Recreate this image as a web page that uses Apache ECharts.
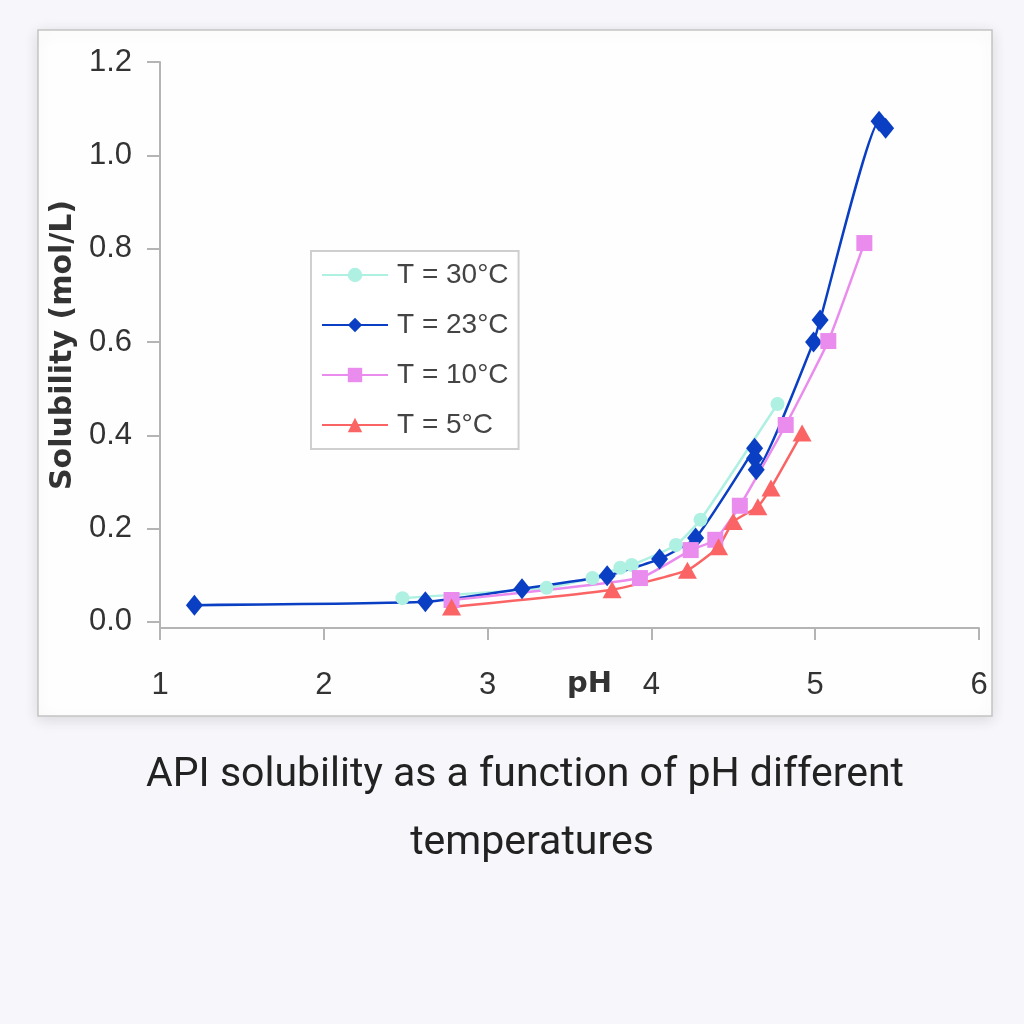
<!DOCTYPE html>
<html>
<head>
<meta charset="utf-8">
<script src="https://cdn.jsdelivr.net/npm/echarts@6/dist/echarts.min.js"></script>
<style>
  html, body { margin: 0; padding: 0; background: #f7f6fa; }
  #chart { width: 1024px; height: 1024px; }
</style>
</head>
<body>
<div id="chart"></div>
<script>
// 数据 (pH, 溶解度 mol/L)
var seriesNames = ["T = 30°C", "T = 23°C", "T = 10°C", "T = 5°C"];
var t30 = [[2.48, 0.051], [3.36, 0.073], [3.64, 0.094], [3.81, 0.116], [3.88, 0.122], [4.15, 0.165], [4.30, 0.219], [4.77, 0.467]];
var t23 = [[1.21, 0.036], [2.62, 0.043], [3.21, 0.071], [3.73, 0.099], [4.05, 0.135], [4.27, 0.18], [4.63, 0.372], [4.63, 0.351], [4.64, 0.326], [4.99, 0.60], [5.03, 0.647], [5.39, 1.073], [5.43, 1.058]];
var t10 = [[2.78, 0.047], [3.93, 0.094], [4.24, 0.154], [4.39, 0.176], [4.54, 0.249], [4.82, 0.422], [5.08, 0.602], [5.30, 0.812]];
var t5 = [[2.78, 0.032], [3.76, 0.069], [4.22, 0.111], [4.41, 0.161], [4.50, 0.215], [4.65, 0.247], [4.73, 0.287], [4.92, 0.405]];
var yTicks = [0, 0.2, 0.4, 0.6, 0.8, 1.0, 1.2];
var captionLines = ["API solubility as a function of pH different", "temperatures"];

var colors = ["#aef0e2", "#0a3fc4", "#ea8cee", "#fb6464"];
var symbols = ["circle", "diamond", "rect", "triangle"];
var symbolSizes = [14, [17, 21], 16, [19, 17]];
var allData = [t30, t23, t10, t5];

var chart = echarts.init(document.getElementById("chart"));
var font = "Liberation Sans, Arial, sans-serif";

// 生成折线系列
function makeSeries (i) {
  return {
    name: seriesNames[i],
    type: "line",
    data: allData[i],
    smooth: 0.15,
    symbol: symbols[i],
    symbolSize: symbolSizes[i],
    showAllSymbol: true,
    lineStyle: { color: colors[i], width: 2.5 },
    itemStyle: { color: colors[i] },
    emphasis: { disabled: true }
  };
}

var series = [];
for (var i = 0; i < allData.length; i++) {
  series.push(makeSeries(i));
}

// 图下说明文字 (两行)
var captionStyle = { fontFamily: "Roboto, sans-serif", fontSize: 41, fontWeight: "normal", color: "#222", lineHeight: 68 };
var titles = [
  { text: captionLines[0], left: 525, top: 742, textAlign: "center", padding: 0, textStyle: captionStyle },
  { text: captionLines[1], left: 532, top: 810, textAlign: "center", padding: 0, textStyle: captionStyle }
];

var axisGray = "#b4b4b4";

chart.setOption({
  animation: false,
  backgroundColor: "#f7f6fa",
  textStyle: { fontFamily: font },
  graphic: [{
    type: "rect",
    z: -10,
    shape: { x: 38, y: 30, width: 954, height: 686 },
    style: { fill: "#fefefe", stroke: "#c4c4c4", lineWidth: 1.5, shadowBlur: 14, shadowColor: "rgba(0,0,0,0.12)", shadowOffsetY: 3 }
  }],
  title: titles,
  grid: { left: 160, right: 45, top: 62, bottom: 396 },
  legend: {
    orient: "vertical",
    left: 311,
    top: 251,
    data: seriesNames,
    backgroundColor: "#ffffff",
    borderColor: "#cfcfcf",
    borderWidth: 2,
    padding: [10, 10, 10, 10],
    itemWidth: 66,
    itemHeight: 18,
    itemGap: 22,
    textStyle: { fontFamily: font, fontSize: 28, color: "#444", padding: [0, 0, 0, 4] }
  },
  xAxis: {
    type: "value",
    min: 1,
    max: 6,
    interval: 1,
    name: "pH",
    nameLocation: "middle",
    nameGap: 42,
    nameMoveOverlap: false,
    nameTextStyle: { fontFamily: "DejaVu Sans, sans-serif", fontSize: 29, fontWeight: "bold", color: "#333", padding: [0, 0, 0, 40] },
    axisLine: { onZero: false, lineStyle: { color: axisGray, width: 2 } },
    axisTick: { show: true, inside: false, length: 12, lineStyle: { color: axisGray, width: 2 } },
    axisLabel: { fontSize: 31, color: "#333", margin: 42 },
    splitLine: { show: false }
  },
  yAxis: {
    type: "value",
    min: -0.013,
    max: 1.2,
    name: "Solubility (mol/L)",
    nameLocation: "middle",
    nameGap: 80,
    nameRotate: 90,
    nameTextStyle: { fontFamily: "DejaVu Sans, sans-serif", fontSize: 30, fontWeight: "bold", color: "#333" },
    axisLine: { show: true, lineStyle: { color: axisGray, width: 2 } },
    axisTick: { show: true, length: 13, customValues: yTicks, lineStyle: { color: axisGray, width: 2 } },
    axisLabel: {
      fontSize: 31,
      color: "#333",
      margin: 28,
      customValues: yTicks,
      formatter: function (v) { return v.toFixed(1); }
    },
    splitLine: { show: false }
  },
  series: series
});
</script>
</body>
</html>
